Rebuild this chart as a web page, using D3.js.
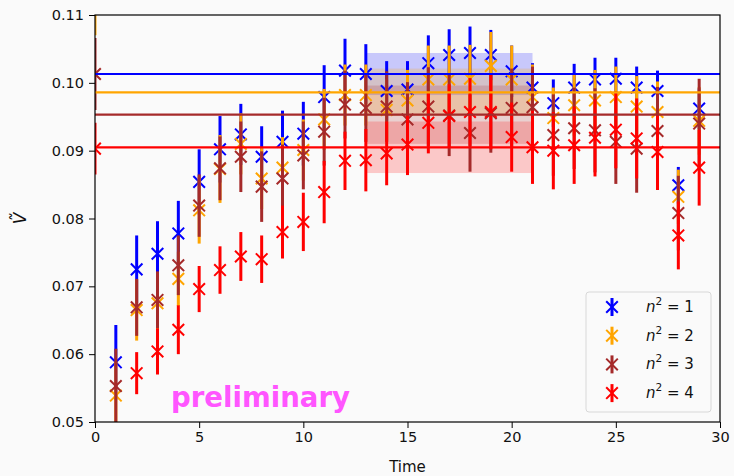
<!DOCTYPE html>
<html>
<head>
<meta charset="utf-8">
<script src="https://cdn.jsdelivr.net/npm/d3@7"></script>
<style>
  html, body { margin: 0; padding: 0; background: #fafafa; }
  svg { display: block; font-family: "DejaVu Sans", sans-serif; }
</style>
</head>
<body>
<svg id="chart" width="734" height="476"></svg>
<script>
// ---------------- data ----------------
const times = d3.range(0, 30);
const xTicks = [0, 5, 10, 15, 20, 25, 30];
const yTicks = [0.05, 0.06, 0.07, 0.08, 0.09, 0.10, 0.11];
const seriesNames = ["n2=1", "n2=2", "n2=3", "n2=4"];
const seriesLabels = ["1", "2", "3", "4"];
const seriesColors = ["blue", "orange", "brown", "red"];

const blueVal = [0.118, 0.0588, 0.0725, 0.0748, 0.0778, 0.0854, 0.0902, 0.0924, 0.0891, 0.0913,
  0.0925, 0.0979, 0.1018, 0.1013, 0.0988, 0.0990, 0.1029, 0.1041, 0.1044, 0.1041,
  0.1017, 0.0993, 0.0970, 0.0993, 0.1005, 0.1006, 0.0993, 0.0988, 0.0849, 0.0962];
const blueErr = [0.004, 0.0055, 0.0050, 0.0048, 0.0048, 0.0048, 0.0049, 0.0045, 0.0045, 0.0046,
  0.0047, 0.0047, 0.0047, 0.0044, 0.0044, 0.0042, 0.0041, 0.0038, 0.0039, 0.0037,
  0.0038, 0.0036, 0.0035, 0.0035, 0.0032, 0.0031, 0.0031, 0.0030, 0.0027, 0.0030];

const orangeVal = [0.113, 0.0539, 0.0665, 0.0675, 0.0711, 0.0812, 0.0873, 0.0910, 0.0859, 0.0875,
  0.0901, 0.0946, 0.0982, 0.0982, 0.0960, 0.0974, 0.1005, 0.1005, 0.1006, 0.1025,
  0.1005, 0.0979, 0.0948, 0.0967, 0.0974, 0.0979, 0.0965, 0.0957, 0.0832, 0.0944];
const orangeErr = [0.006, 0.0050, 0.0045, 0.0045, 0.0040, 0.0049, 0.0050, 0.0045, 0.0045, 0.0045,
  0.0045, 0.0045, 0.0045, 0.0045, 0.0045, 0.0045, 0.0050, 0.0050, 0.0050, 0.0050,
  0.0050, 0.0048, 0.0045, 0.0045, 0.0045, 0.0045, 0.0045, 0.0045, 0.0040, 0.0050];

const brownVal = [0.1013, 0.0553, 0.0669, 0.0680, 0.0731, 0.0819, 0.0874, 0.0891, 0.0847, 0.0859,
  0.0893, 0.0928, 0.0968, 0.0963, 0.0965, 0.0946, 0.0965, 0.0952, 0.0926, 0.0955,
  0.0963, 0.0964, 0.0923, 0.0933, 0.0930, 0.0913, 0.0903, 0.0929, 0.0808, 0.0940];
const brownErr = [0.0053, 0.0055, 0.0042, 0.0042, 0.0044, 0.0046, 0.0047, 0.0052, 0.0052, 0.0050,
  0.0050, 0.0050, 0.0050, 0.0050, 0.0052, 0.0055, 0.0058, 0.0060, 0.0057, 0.0058,
  0.0058, 0.0060, 0.0060, 0.0060, 0.0062, 0.0062, 0.0065, 0.0065, 0.0055, 0.0066];

const redVal = [0.0903, 0.0460, 0.0572, 0.0604, 0.0636, 0.0696, 0.0724, 0.0744, 0.0740, 0.0780,
  0.0795, 0.0839, 0.0885, 0.0886, 0.0896, 0.0909, 0.0941, 0.0951, 0.0957, 0.0957,
  0.0920, 0.0905, 0.0900, 0.0908, 0.0919, 0.0931, 0.0918, 0.0898, 0.0775, 0.0875];
const redErr = [0.0038, 0.0030, 0.0031, 0.0034, 0.0036, 0.0034, 0.0035, 0.0036, 0.0035, 0.0039,
  0.0043, 0.0046, 0.0043, 0.0046, 0.0047, 0.0045, 0.0045, 0.0047, 0.0050, 0.0055,
  0.0051, 0.0054, 0.0057, 0.0057, 0.0057, 0.0057, 0.0059, 0.0056, 0.0050, 0.0056];

// plateau fits
const fitVal = [0.1013, 0.0986, 0.0953, 0.0905];
const fitErr = [0.0031, 0.0035, 0.0043, 0.0038];
const fitRange = [13, 21];

const values = [blueVal, orangeVal, brownVal, redVal];
const errors = [blueErr, orangeErr, brownErr, redErr];

// ---------------- layout ----------------
const svg = d3.select("#chart");
const W = 734, H = 476;
const m = { left: 95, right: 14, top: 15, bottom: 54 };
const x = d3.scaleLinear().domain([0, 30]).range([m.left, W - m.right]);
const y = d3.scaleLinear().domain([0.05, 0.11]).range([H - m.bottom, m.top]);

svg.append("rect").attr("width", W).attr("height", H).attr("fill", "#fafafa");

svg.append("defs").append("clipPath").attr("id", "clip")
  .append("rect")
  .attr("x", x(0)).attr("y", y(0.11))
  .attr("width", x(30) - x(0)).attr("height", y(0.05) - y(0.11));

const plot = svg.append("g").attr("clip-path", "url(#clip)");

// bands
seriesColors.forEach((c, i) => {
  plot.append("rect")
    .attr("x", x(fitRange[0])).attr("width", x(fitRange[1]) - x(fitRange[0]))
    .attr("y", y(fitVal[i] + fitErr[i]))
    .attr("height", y(fitVal[i] - fitErr[i]) - y(fitVal[i] + fitErr[i]))
    .attr("fill", c).attr("fill-opacity", 0.2);
});

const ms = 5.8;
function xPath(cx, cy) {
  return `M${cx - ms},${cy - ms}L${cx + ms},${cy + ms}M${cx - ms},${cy + ms}L${cx + ms},${cy - ms}`;
}
function drawSeries(i) {
  const c = seriesColors[i];
  const g = plot.append("g");
  g.selectAll("line").data(times).join("line")
    .attr("x1", t => x(t)).attr("x2", t => x(t))
    .attr("y1", t => y(values[i][t] - errors[i][t]))
    .attr("y2", t => y(values[i][t] + errors[i][t]))
    .attr("stroke", c).attr("stroke-width", 3);
  g.selectAll("path").data(times).join("path")
    .attr("d", t => xPath(x(t), y(values[i][t])))
    .attr("stroke", c).attr("stroke-width", 2).attr("fill", "none");
}
for (let i = 0; i < 4; i++) drawSeries(i);

// horizontal fit lines
seriesColors.forEach((c, i) => {
  plot.append("line")
    .attr("x1", x(0)).attr("x2", x(30))
    .attr("y1", y(fitVal[i])).attr("y2", y(fitVal[i]))
    .attr("stroke", c).attr("stroke-width", 2.2);
});

// axes
const xAxis = d3.axisBottom(x).tickValues(xTicks).tickSize(6).tickPadding(4).tickFormat(d3.format("d"));
const yAxis = d3.axisLeft(y).tickValues(yTicks).tickSize(6).tickPadding(5).tickFormat(d3.format(".2f"));
const gx = svg.append("g").attr("transform", `translate(0,${y(0.05)})`).call(xAxis);
const gy = svg.append("g").attr("transform", `translate(${x(0)},0)`).call(yAxis);
[gx, gy].forEach(g => {
  g.select(".domain").remove();
  g.selectAll("text").attr("font-size", 14.5).attr("fill", "#111").attr("font-family", "DejaVu Sans");
  g.selectAll("line").attr("stroke", "#000").attr("stroke-width", 1);
});

// frame
svg.append("rect")
  .attr("x", x(0)).attr("y", y(0.11))
  .attr("width", x(30) - x(0)).attr("height", y(0.05) - y(0.11))
  .attr("fill", "none").attr("stroke", "#000").attr("stroke-width", 1.2);

// axis labels
svg.append("text").attr("x", (x(0) + x(30)) / 2).attr("y", 472)
  .attr("text-anchor", "middle").attr("font-size", 15).attr("fill", "#111").text("Time");
svg.append("text")
  .attr("transform", `translate(26,${(y(0.05) + y(0.11)) / 2}) rotate(-90)`)
  .attr("text-anchor", "middle").attr("font-size", 17).attr("fill", "#111")
  .attr("font-style", "italic").text("V\u0303");

// watermark
svg.append("text").attr("x", 171).attr("y", 407)
  .attr("font-size", 27.6).attr("font-weight", "bold").attr("fill", "#ff55ff")
  .text("preliminary");

// legend
const lg = svg.append("g").attr("transform", "translate(586,292)");
lg.append("rect").attr("width", 125).attr("height", 120).attr("rx", 3)
  .attr("fill", "#fafafa").attr("fill-opacity", 0.8).attr("stroke", "#d8d8d8").attr("stroke-width", 1);
seriesColors.forEach((c, i) => {
  const cy = 15 + i * 28.7;
  const cx = 26;
  lg.append("line").attr("x1", cx).attr("x2", cx).attr("y1", cy - 9).attr("y2", cy + 9)
    .attr("stroke", c).attr("stroke-width", 3);
  lg.append("path")
    .attr("d", xPath(cx, cy))
    .attr("stroke", c).attr("stroke-width", 2).attr("fill", "none");
  const t = lg.append("text").attr("x", 60).attr("y", cy + 5).attr("font-size", 15).attr("fill", "#111");
  t.append("tspan").attr("font-style", "italic").text("n");
  t.append("tspan").attr("font-size", 10.5).attr("dy", -7).text("2");
  t.append("tspan").attr("dy", 7).text(" = " + seriesLabels[i]);
});
</script>
</body>
</html>
